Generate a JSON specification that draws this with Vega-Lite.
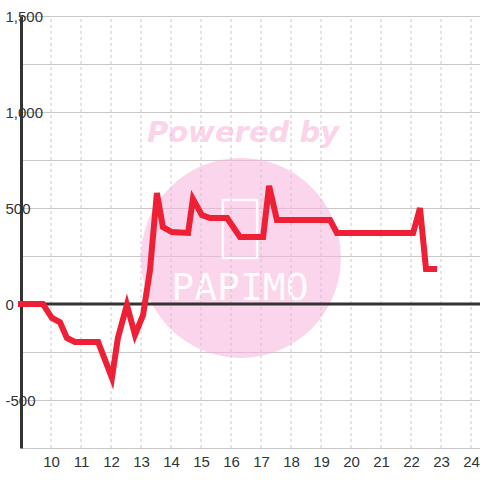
{
  "$schema": "https://vega.github.io/schema/vega-lite/v6.json",
  "autosize": "none",
  "width": 459,
  "height": 432,
  "padding": {"left": 21, "top": 16, "right": 0, "bottom": 32},
  "background": "#ffffff",
  "config": {
    "view": {"stroke": null},
    "font": "Liberation Sans",
    "axis": {"labelOverlap": false}
  },
  "encoding": {
    "x": {"field": "t", "type": "quantitative", "scale": {"domain": [9, 24.3], "nice": false, "zero": false}, "axis": {
      "values": [10, 11, 12, 13, 14, 15, 16, 17, 18, 19, 20, 21, 22, 23, 24],
      "title": null,
      "domain": false,
      "ticks": false,
      "grid": false,
      "labelOverlap": false,
      "labelFontSize": 15,
      "labelColor": "#333333",
      "labelPadding": 6,
      "labelFont": "Liberation Sans"
    }},
    "y": {"field": "v", "type": "quantitative", "scale": {"domain": [-750, 1500], "nice": false}, "axis": {
      "values": [-750, -500, -250, 0, 250, 500, 750, 1000, 1250, 1500],
      "title": null,
      "domain": true,
      "domainColor": "#333333",
      "domainWidth": 3,
      "ticks": false,
      "grid": true,
      "gridColor": "#c8c8c8",
      "gridWidth": 1,
      "labelOverlap": false,
      "labelAlign": "left",
      "labelBaseline": "middle",
      "labelPadding": 16,
      "labelFontSize": 15,
      "labelColor": "#333333",
      "labelFont": "Liberation Sans",
      "labelExpr": "datum.value % 500 == 0 && datum.value > -750 ? (datum.value < 0 ? '-' + format(-datum.value, ',') : format(datum.value, ',')) : ''"
    }}
  },
  "layer": [
    {
      "data": {"values": [{"t": 16.33, "v": 240}]},
      "mark": {"type": "point", "shape": "circle", "filled": true, "size": 40000, "color": "#F8B2DA", "opacity": 0.55}
    },
    {
      "data": {"values": [{"t": 16.4, "v": 890, "label": "Powered by"}]},
      "mark": {"type": "text", "font": "DejaVu Sans", "fontWeight": "bold", "fontStyle": "italic", "fontSize": 29, "color": "#F8B2DA", "opacity": 0.55, "baseline": "middle", "align": "center"},
      "encoding": {
        "text": {"field": "label"}
      }
    },
    {
      "data": {"values": [{"t": 16.3, "v": 390}]},
      "mark": {"type": "point", "shape": "M-0.59,-1L0.59,-1L0.59,1L-0.59,1Z", "filled": false, "size": 3364, "stroke": "#ffffff", "strokeWidth": 2.5, "opacity": 0.9}
    },
    {
      "data": {"values": [{"t": 16.3, "v": 76, "label": "PAPIMO"}]},
      "mark": {"type": "text", "font": "DejaVu Sans Mono", "fontSize": 38, "color": "#ffffff", "opacity": 0.9, "baseline": "middle", "align": "center"},
      "encoding": {
        "text": {"field": "label"}
      }
    },
    {
      "data": {"values": [
        {"t": 10, "v": -750, "v2": 1500}, {"t": 11, "v": -750, "v2": 1500}, {"t": 12, "v": -750, "v2": 1500},
        {"t": 13, "v": -750, "v2": 1500}, {"t": 14, "v": -750, "v2": 1500}, {"t": 15, "v": -750, "v2": 1500},
        {"t": 16, "v": -750, "v2": 1500}, {"t": 17, "v": -750, "v2": 1500}, {"t": 18, "v": -750, "v2": 1500},
        {"t": 19, "v": -750, "v2": 1500}, {"t": 20, "v": -750, "v2": 1500}, {"t": 21, "v": -750, "v2": 1500},
        {"t": 22, "v": -750, "v2": 1500}, {"t": 23, "v": -750, "v2": 1500}, {"t": 24, "v": -750, "v2": 1500}
      ]},
      "mark": {"type": "rule", "color": "#c8c8c8", "strokeWidth": 1, "strokeDash": [3, 3]},
      "encoding": {
        "y2": {"field": "v2"}
      }
    },
    {
      "data": {"values": [{"t": 8.95, "t2": 24.3, "v": 0}]},
      "mark": {"type": "rule", "color": "#333333", "strokeWidth": 3},
      "encoding": {
        "x2": {"field": "t2"}
      }
    },
    {
      "data": {"values": [
        {"t": 8.9, "v": 0},
        {"t": 9.73, "v": 0},
        {"t": 10.03, "v": -73},
        {"t": 10.3, "v": -95},
        {"t": 10.53, "v": -177},
        {"t": 10.8, "v": -198},
        {"t": 11.57, "v": -198},
        {"t": 12.03, "v": -385},
        {"t": 12.23, "v": -177},
        {"t": 12.53, "v": -5},
        {"t": 12.8, "v": -161},
        {"t": 13.07, "v": -57},
        {"t": 13.3, "v": 177},
        {"t": 13.53, "v": 578},
        {"t": 13.73, "v": 401},
        {"t": 14.03, "v": 375},
        {"t": 14.57, "v": 370},
        {"t": 14.73, "v": 547},
        {"t": 15.03, "v": 463},
        {"t": 15.3, "v": 448},
        {"t": 15.87, "v": 448},
        {"t": 16.3, "v": 349},
        {"t": 17.07, "v": 349},
        {"t": 17.27, "v": 615},
        {"t": 17.53, "v": 438},
        {"t": 19.3, "v": 438},
        {"t": 19.53, "v": 370},
        {"t": 22.07, "v": 370},
        {"t": 22.3, "v": 500},
        {"t": 22.5, "v": 182},
        {"t": 22.87, "v": 182}
      ]},
      "mark": {"type": "line", "color": "#EE2036", "strokeWidth": 6, "strokeJoin": "miter"}
    }
  ]
}
